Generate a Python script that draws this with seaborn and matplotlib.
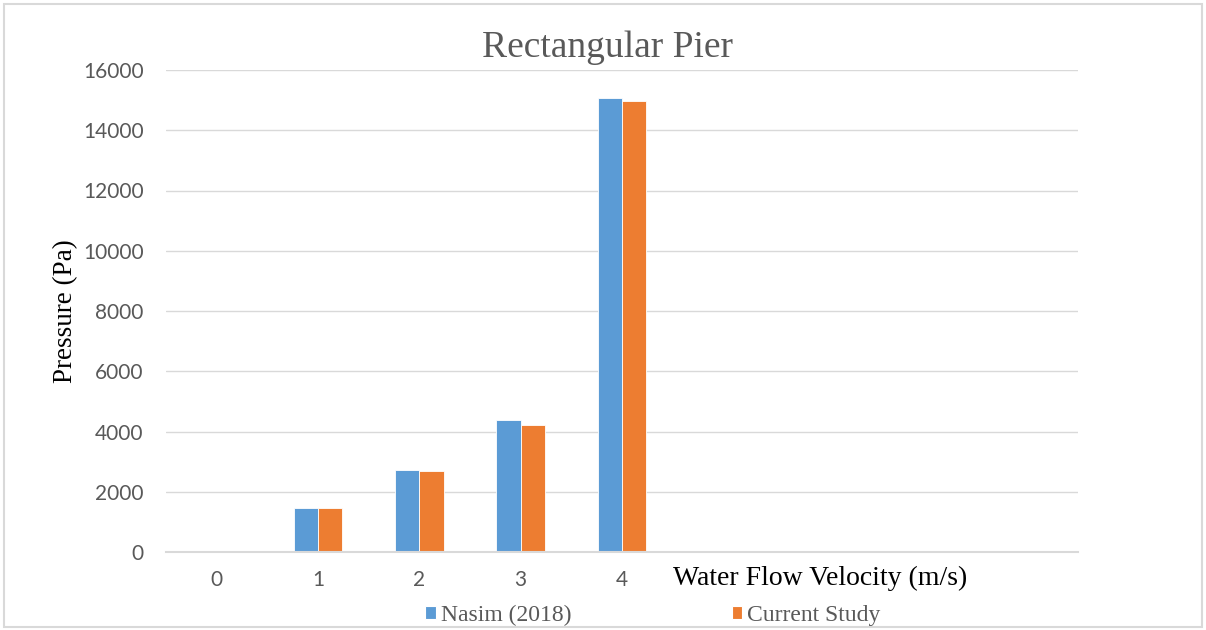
import numpy as np
import pandas as pd
import matplotlib.pyplot as plt
import seaborn as sns
from matplotlib.patches import Rectangle, Patch

sns.set_theme(context='paper', style='whitegrid')
plt.rcParams['font.family'] = ['Lato', 'DejaVu Sans']

# data
velocity = [0, 1, 2, 3, 4]
nasim = [0, 1470, 2720, 4380, 15070]
current = [0, 1450, 2700, 4210, 14970]
series_names = ['Nasim (2018)', 'Current Study']
tick_labels = ['0', '1', '2', '3', '4', '', '', '', '']
colors = ['#5B9BD5', '#ED7D31']

df = pd.DataFrame({
    'Velocity': velocity * 2,
    'Pressure': nasim + current,
    'Series': [series_names[0]] * len(velocity) + [series_names[1]] * len(velocity),
})

fig, ax = plt.subplots(1, 1, figsize=(12.06, 6.3), dpi=100)
fig.subplots_adjust(left=166 / 1206, right=1078 / 1206, top=1 - 70 / 630, bottom=1 - 552 / 630)

sns.barplot(data=df, x='Velocity', y='Pressure', hue='Series', order=list(range(9)),
            palette=colors, width=0.48, gap=0, saturation=1, ax=ax, legend=False,
            edgecolor='white', linewidth=0.6)

ax.set_ylim(0, 16000)
ax.set_yticks(np.arange(0, 16001, 2000))
ax.set_xticks(range(9))
ax.set_xticklabels(tick_labels)
ax.tick_params(axis='both', length=0, labelsize=15, labelcolor='#595959')
ax.tick_params(axis='y', pad=16)
ax.tick_params(axis='x', pad=13)

ax.grid(axis='y', color='#d9d9d9', linewidth=1)
ax.grid(axis='x', visible=False)
ax.set_axisbelow(True)
for side in ['top', 'right', 'left']:
    ax.spines[side].set_visible(False)
ax.spines['bottom'].set_color('#d9d9d9')
ax.spines['bottom'].set_linewidth(1.5)

serif = 'Liberation Serif'
fig.text(608 / 1206, 1 - 48 / 630, 'Rectangular Pier', fontsize=27, color='#595959',
         family=serif, ha='center', va='center')
ax.set_ylabel('Pressure (Pa)', fontsize=19.5, color='black', family=serif)
ax.yaxis.set_label_coords(-0.11, 0.5)
ax.yaxis.label.set_verticalalignment('center')
ax.set_xlabel('Water Flow Velocity (m/s)', fontsize=20, color='black', family=serif)
ax.xaxis.set_label_coords(0.717, -0.054)
ax.xaxis.label.set_verticalalignment('center')

handles = [Patch(facecolor=c) for c in colors]
fig.legend(handles, series_names, loc='center', bbox_to_anchor=(653 / 1206, 1 - 615 / 630),
           ncol=2, frameon=False, handlelength=0.45, handleheight=0.45, handletextpad=0.2,
           columnspacing=6.8, prop={'family': serif, 'size': 17}, labelcolor='#595959')

fig.add_artist(Rectangle((4 / 1206, 3 / 630), 1198 / 1206, 623 / 630, transform=fig.transFigure,
                         fill=False, edgecolor='#d9d9d9', linewidth=1.5))

plt.savefig('out.png', dpi=100)
